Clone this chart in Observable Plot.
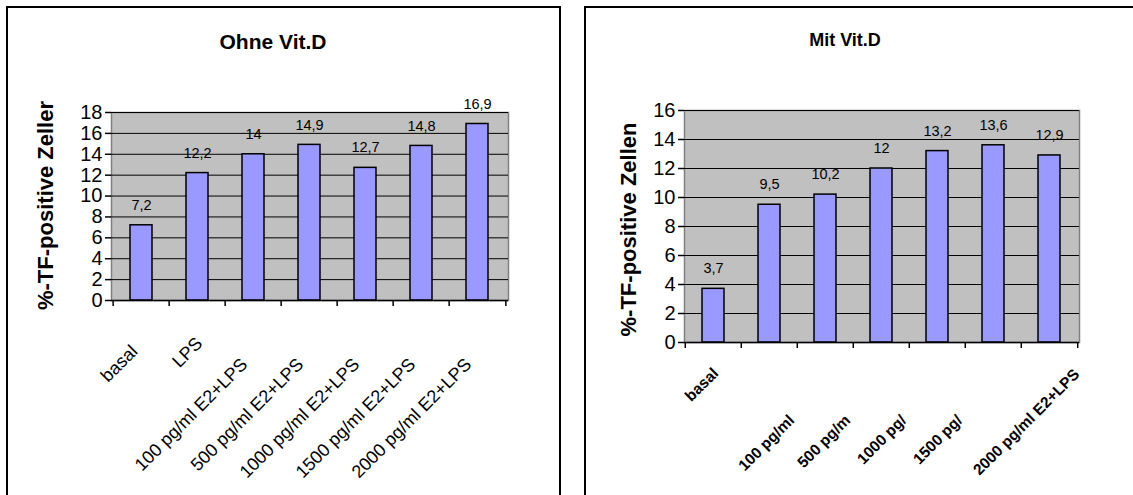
<!DOCTYPE html>
<html><head><meta charset="utf-8">
<script src="https://cdn.jsdelivr.net/npm/d3@7"></script>
<script src="https://cdn.jsdelivr.net/npm/@observablehq/plot@0.6"></script>
<style>
body{margin:0;background:#fff;width:1133px;height:495px;overflow:hidden;position:relative;font-family:"Liberation Sans",Arial,sans-serif;}
.panel{position:absolute;border:2px solid #000;box-sizing:border-box;z-index:3;}
.title{position:absolute;font-weight:bold;transform:translate(-50%,-50%);white-space:nowrap;color:#000;z-index:2;}
.chart{position:absolute;top:0;}
</style></head><body>
<div id="left" class="chart" style="left:0px"></div>
<div id="right" class="chart" style="left:566px"></div>
<div class="panel" style="left:6px;top:6px;width:555px;height:530px"></div>
<div class="panel" style="left:584px;top:6px;width:570px;height:530px"></div>
<div id="t1" class="title" style="left:273px;top:42px;font-size:21px"></div>
<div id="t2" class="title" style="left:845px;top:40px;font-size:18px"></div>
<script>
// ---- data ----
const conditions = ["basal", "LPS", "100 pg/ml E2+LPS", "500 pg/ml E2+LPS", "1000 pg/ml E2+LPS", "1500 pg/ml E2+LPS", "2000 pg/ml E2+LPS"];
const ohneValues = [7.2, 12.2, 14, 14.9, 12.7, 14.8, 16.9];
const mitValues = [3.7, 9.5, 10.2, 12, 13.2, 13.6, 12.9];
const ohneTicks = [0, 2, 4, 6, 8, 10, 12, 14, 16, 18];
const mitTicks = [0, 2, 4, 6, 8, 10, 12, 14, 16];
const ohneTickLabels = ["basal", "LPS", "100 pg/ml E2+LPS", "500 pg/ml E2+LPS", "1000 pg/ml E2+LPS", "1500 pg/ml E2+LPS", "2000 pg/ml E2+LPS"];
const mitTickLabels = ["basal", "100 pg/ml", "500 pg/m", "1000 pg/", "1500 pg/", "", "2000 pg/ml E2+LPS"];
const ohneTitle = "Ohne Vit.D";
const mitTitle = "Mit Vit.D";
const ohneYLabel = "%-TF-positive Zeller";
const mitYLabel = "%-TF-positive Zellen";

document.getElementById("t1").textContent = ohneTitle;
document.getElementById("t2").textContent = mitTitle;

const fmt = v => String(v).replace(".", ",");

function makeChart(cfg) {
  const data = conditions.map((c, i) => ({cat: c, value: cfg.values[i], label: cfg.tickLabels[i], i}));
  const frameW = cfg.width - cfg.ml - cfg.mr;
  const frameH = cfg.height - cfg.mt - cfg.mb;
  const step = frameW / conditions.length;
  const labelMarks = cfg.labelGroups.map(g => Plot.text(data.filter(d => g.idx.includes(d.i)), {
    x: "cat", text: "label", frameAnchor: "bottom", rotate: -45, textAnchor: "end", lineAnchor: "top",
    dx: g.dx, dy: g.dy, fontSize: cfg.xFont, fontWeight: cfg.xWeight, fill: "#000"
  }));
  return Plot.plot({
    width: cfg.width, height: cfg.height,
    marginLeft: cfg.ml, marginRight: cfg.mr, marginTop: cfg.mt, marginBottom: cfg.mb,
    style: {background: "transparent", fontFamily: "'Liberation Sans', Arial, sans-serif", color: "#000", overflow: "visible"},
    x: {domain: conditions, paddingInner: 0.6, paddingOuter: 0.3, axis: null},
    y: {domain: [0, cfg.ticks[cfg.ticks.length - 1]]},
    marks: [
      Plot.frame({fill: "#C0C0C0", stroke: "#808080", strokeWidth: 1.5}),
      Plot.ruleY(cfg.ticks, {stroke: "#000", strokeWidth: 1}),
      Plot.barY(data, {x: "cat", y: "value", fill: "#9999FF", stroke: "#000", strokeWidth: 1.5}),
      Plot.text(data, {x: "cat", y: "value", text: d => fmt(d.value), dy: -20, fontSize: 14.5, fill: "#000"}),
      Plot.ruleY([0], {stroke: "#000", strokeWidth: 1.5}),
      Plot.ruleX(conditions, {x: d => d, dx: -step / 2, insetTop: frameH, insetBottom: -6, stroke: "#000", strokeWidth: 1.5}),
      Plot.ruleX(conditions.slice(-1), {x: d => d, dx: step / 2, insetTop: frameH, insetBottom: -6, stroke: "#000", strokeWidth: 1.5}),
      Plot.axisY(cfg.ticks, {tickSize: 6, tickPadding: 3, fontSize: 20, label: null, line: true, stroke: "#000", strokeWidth: 1.5, tickFormat: d => d}),
      Plot.text([cfg.yLabel], {frameAnchor: "left", rotate: -90, dx: cfg.yLabelDx, dy: cfg.yLabelDy, fontSize: 22, fontWeight: "bold", textAnchor: "middle", lineAnchor: "middle", fill: "#000"}),
      ...labelMarks
    ]
  });
}

document.getElementById("left").append(makeChart({
  values: ohneValues, ticks: ohneTicks, tickLabels: ohneTickLabels, yLabel: ohneYLabel,
  width: 560, height: 495, ml: 111, mr: 52, mt: 112, mb: 195,
  yLabelDx: -66, yLabelDy: -1, xFont: 18, xWeight: "normal",
  labelGroups: [
    {idx: [0], dx: -12, dy: 43},
    {idx: [1], dx: -3, dy: 35},
    {idx: [2, 3, 4, 5, 6], dx: -14, dy: 56}
  ]
}));

document.getElementById("right").append(makeChart({
  values: mitValues, ticks: mitTicks, tickLabels: mitTickLabels, yLabel: mitYLabel,
  width: 567, height: 495, ml: 118, mr: 54, mt: 110, mb: 153,
  yLabelDx: -56, yLabelDy: 3, xFont: 15.5, xWeight: "bold",
  labelGroups: [
    {idx: [0], dx: -2, dy: 24},
    {idx: [1, 2, 3, 4], dx: 18, dy: 71},
    {idx: [6], dx: 23, dy: 25}
  ]
}));
</script>
</body></html>
